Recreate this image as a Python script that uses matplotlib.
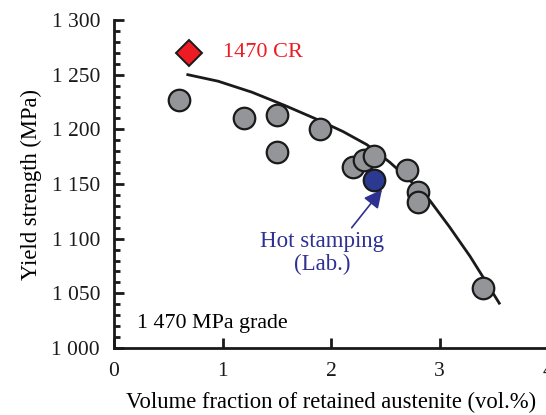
import matplotlib
matplotlib.use("Agg")
import matplotlib.pyplot as plt
from matplotlib.ticker import MultipleLocator, FuncFormatter

plt.rcParams['font.family'] = ['Liberation Serif', 'DejaVu Serif']

# measured samples (gray circles)
ra_frac = [0.6, 1.2, 1.5, 1.5, 1.9, 2.2, 2.3, 2.4, 2.7, 2.8, 2.8, 3.4]
ys_mpa = [1227, 1210, 1213, 1179, 1200, 1166, 1172, 1176, 1163, 1143, 1134, 1055]

# hot stamping (lab) point
hs_x = [2.4]
hs_y = [1154]

# 1470 CR reference
cr_x = [0.69]
cr_y = [1270]

# trend line
trend_x = [0.68, 0.96, 1.27, 1.57, 1.85, 2.11, 2.33, 2.54, 2.72, 2.91, 3.09, 3.28, 3.40, 3.55]
trend_y = [1250, 1244, 1234, 1222, 1210, 1198, 1186, 1170, 1154, 1135, 1111, 1084, 1065, 1041]

fig = plt.figure(figsize=(5.46, 4.15), dpi=100)
ax = fig.add_axes([0.2088, 0.1614, 0.795, 0.7904])

ax.plot(trend_x, trend_y, color='#1a1a1a', lw=2.0, zorder=2, solid_joinstyle='round')
ax.plot(ra_frac, ys_mpa, 'o', ms=15.5, mfc='#939598', mec='#1a1a1a', mew=1.6, ls='none', zorder=3)
ax.plot(hs_x, hs_y, 'o', ms=15.5, mfc='#2b3990', mec='#1a1a1a', mew=1.6, ls='none', zorder=4)
ax.plot(cr_x, cr_y, 'D', ms=13, mfc='#ed1c24', mec='#1a1a1a', mew=1.4, ls='none', zorder=4)

ax.text(1.0, 1270, '1470 CR', color='#ed1c24', fontsize=16, va='center', ha='left')
ax.text(1.92, 1097, 'Hot stamping', color='#2e3192', fontsize=16.5, ha='center', va='center')
ax.text(1.92, 1076, '(Lab.)', color='#2e3192', fontsize=16.5, ha='center', va='center')
ax.annotate('', xy=(2.47, 1145), xytext=(2.19, 1110),
            arrowprops=dict(arrowstyle='-|>,head_length=1.1,head_width=0.55',
                            color='#2e3192', lw=1.2, shrinkA=0, shrinkB=0))
ax.text(0.21, 1022, '1 470 MPa grade', fontsize=15.8, ha='left', va='center')

ax.set_xlim(0, 4)
ax.set_ylim(1000, 1300)
ax.xaxis.set_major_locator(MultipleLocator(1))
ax.yaxis.set_major_locator(MultipleLocator(50))
ax.yaxis.set_minor_locator(MultipleLocator(10))
ax.yaxis.set_major_formatter(FuncFormatter(lambda v, p: f'{int(v):,}'.replace(',', ' ')))

for s in ['top', 'right']:
    ax.spines[s].set_visible(False)
for s in ['left', 'bottom']:
    ax.spines[s].set_linewidth(2.0)
    ax.spines[s].set_color('#1a1a1a')

ax.tick_params(axis='both', which='major', direction='in', length=7, width=2,
               labelsize=15.5, pad=10, colors='#1a1a1a')
ax.tick_params(axis='y', which='minor', direction='in', length=4.5, width=2, colors='#1a1a1a')

ax.set_xlabel('Volume fraction of retained austenite (vol.%)', fontsize=16.3, labelpad=8)
ax.set_ylabel('Yield strength (MPa)', fontsize=16.3, labelpad=7)

fig.savefig('out.png', dpi=100)
